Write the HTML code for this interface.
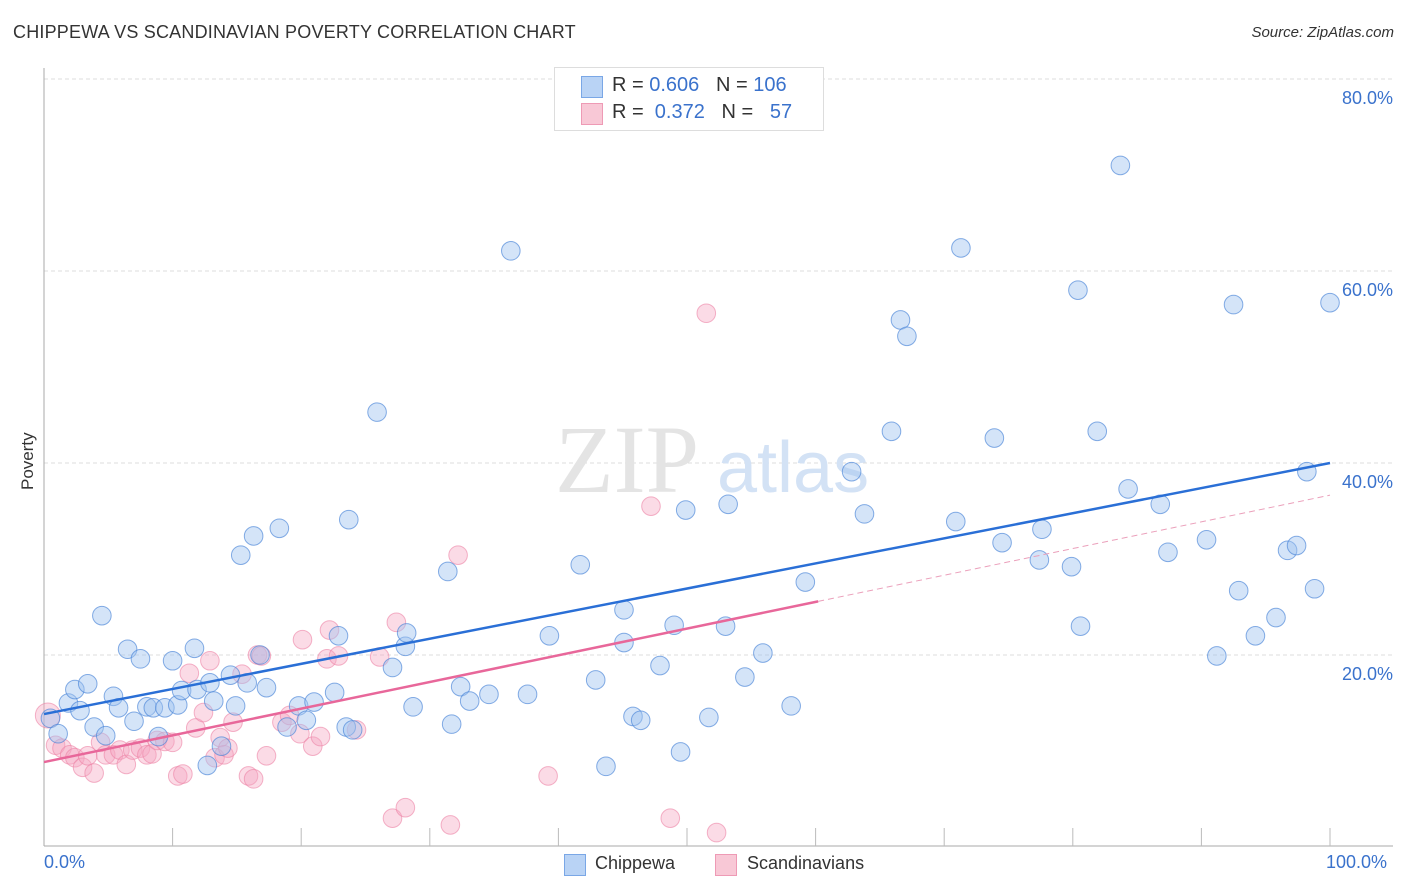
<!DOCTYPE html>
<html><head><meta charset="utf-8"><style>
body{margin:0;background:#fff;font-family:"Liberation Sans",sans-serif;}
#wrap{position:relative;width:1406px;height:892px;overflow:hidden;}
.t{position:absolute;white-space:nowrap;}
</style></head><body>
<div id="wrap">
<div class="t" style="left:13px;top:22px;font-size:18px;color:#333;letter-spacing:0.2px">CHIPPEWA VS SCANDINAVIAN POVERTY CORRELATION CHART</div>
<div class="t" style="right:12px;top:24px;font-size:15px;color:#333;font-style:italic">Source: ZipAtlas.com</div>
<div class="t" style="left:18px;top:490px;font-size:17px;color:#333;transform:rotate(-90deg);transform-origin:left top;">Poverty</div>
<svg id="svg" width="1406" height="892" style="position:absolute;left:0;top:0"></svg>
<div style="position:absolute;left:554px;top:67px;width:268px;height:62px;border:1px solid #ddd;background:#fff;font-size:20px;color:#333">
 <div style="position:absolute;left:26px;top:8px;width:20px;height:20px;background:#b9d3f5;border:1px solid #7aa7e6"></div>
 <div class="t" style="left:57px;top:6px">R = <span style="color:#3a72cc">0.606</span>&nbsp;&nbsp;&nbsp;N = <span style="color:#3a72cc">106</span></div>
 <div style="position:absolute;left:26px;top:35px;width:20px;height:20px;background:#f8c8d6;border:1px solid #ee9ab5"></div>
 <div class="t" style="left:57px;top:33px">R = &nbsp;<span style="color:#3a72cc">0.372</span>&nbsp;&nbsp;&nbsp;N = &nbsp;&nbsp;<span style="color:#3a72cc">57</span></div>
</div>
<div class="t" style="left:44px;top:852px;font-size:18px;color:#3a72cc">0.0%</div>
<div class="t" style="left:1326px;top:852px;font-size:18px;color:#3a72cc">100.0%</div>
<div style="position:absolute;left:564px;top:854px;width:20px;height:20px;background:#b9d3f5;border:1px solid #7aa7e6"></div>
<div class="t" style="left:595px;top:853px;font-size:18px;color:#333">Chippewa</div>
<div style="position:absolute;left:715px;top:854px;width:20px;height:20px;background:#f8c8d6;border:1px solid #ee9ab5"></div>
<div class="t" style="left:747px;top:853px;font-size:18px;color:#333">Scandinavians</div>
</div>
<script>
const yTicks=[20,40,60,80];
const yTickLabels=["20.0%","40.0%","60.0%","80.0%"];
const blueX=[0.5,1.1,1.9,2.4,2.8,3.4,3.9,4.5,4.8,5.4,5.8,6.5,7.0,7.5,8.0,8.5,8.9,9.4,10.0,10.4,10.7,11.7,11.9,12.7,12.9,13.2,13.8,14.5,14.9,15.3,15.8,16.3,16.8,17.3,18.3,18.9,19.8,20.4,21.0,22.6,22.9,23.5,23.7,24.0,25.9,27.1,28.1,28.2,28.7,31.4,31.7,32.4,33.1,34.6,36.3,37.6,39.3,41.7,42.9,43.7,45.1,45.1,45.8,46.4,47.9,49.0,49.5,49.9,51.7,53.0,53.2,54.5,55.9,58.1,59.2,62.8,63.8,65.9,66.6,67.1,70.9,71.3,73.9,74.5,77.4,77.6,79.9,80.4,80.6,81.9,83.7,84.3,86.8,87.4,90.4,91.2,92.5,92.9,94.2,95.8,96.7,97.4,98.2,98.8,100.0];
const blueY=[13.4,11.8,15.0,16.4,14.2,17.0,12.5,24.1,11.6,15.7,14.5,20.6,13.1,19.6,14.6,14.5,11.5,14.5,19.4,14.8,16.3,20.7,16.4,8.5,17.1,15.2,10.5,17.9,14.7,30.4,17.1,32.4,20.0,16.6,33.2,12.5,14.7,13.2,15.1,16.1,22.0,12.5,34.1,12.2,45.3,18.7,20.9,22.3,14.6,28.7,12.8,16.7,15.2,15.9,62.1,15.9,22.0,29.4,17.4,8.4,24.7,21.3,13.6,13.2,18.9,23.1,9.9,35.1,13.5,23.0,35.7,17.7,20.2,14.7,27.6,39.1,34.7,43.3,54.9,53.2,33.9,62.4,42.6,31.7,29.9,33.1,29.2,58.0,23.0,43.3,71.0,37.3,35.7,30.7,32.0,19.9,56.5,26.7,22.0,23.9,30.9,31.4,39.1,26.9,56.7];
const pinkX=[0.3,0.9,1.4,2.0,2.4,3.0,3.4,3.9,4.4,4.8,5.4,5.9,6.4,6.9,7.5,8.0,8.4,8.8,9.4,10.0,10.4,10.8,11.3,11.8,12.4,12.9,13.3,13.7,14.0,14.3,14.7,15.4,15.9,16.3,16.6,16.9,17.3,18.5,19.1,19.9,20.1,20.9,21.5,22.0,22.2,22.9,24.3,26.1,27.4,27.1,28.1,31.6,32.2,39.2,47.2,48.7,51.5,52.3];
const pinkY=[13.7,10.6,10.3,9.6,9.3,8.3,9.5,7.7,10.9,9.6,9.6,10.1,8.6,10.1,10.3,9.6,9.7,11.1,11.0,10.9,7.4,7.6,18.1,12.4,14.0,19.4,9.3,11.4,9.6,10.3,13.0,18.0,7.4,7.1,20.0,19.9,9.5,13.0,13.7,11.8,21.6,10.5,11.5,19.6,22.6,19.9,12.2,19.8,23.4,3.0,4.1,2.3,30.4,7.4,35.5,3.0,55.6,1.5];
const blueTrend=[13.85,0.2615];
const pinkTrend=[8.85,0.278];
const svg=document.getElementById('svg');const NS='http://www.w3.org/2000/svg';
const X=v=>44+v*12.86, Y=v=>847-v*9.6;
function mk(tag,attrs,name){const e=document.createElementNS(NS,tag);for(const k in attrs)e.setAttribute(k,attrs[k]);


svg.appendChild(e);return e;}
yTicks.forEach((v,i)=>{mk('line',{x1:44,x2:1393,y1:Y(v),y2:Y(v),stroke:'#ddd','stroke-dasharray':'4,3'},'gridline');
const t=mk('text',{x:1393,y:Y(v)+25,'text-anchor':'end','font-size':18,fill:'#3a72cc','font-family':'Liberation Sans'},'y-tick-label');t.textContent=yTickLabels[i];});
const w=mk('text',{x:555,y:492,'font-size':96,fill:'#e4e4e4','font-family':'Liberation Serif'},'watermark');w.textContent='ZIP';
const w2=mk('text',{x:717,y:492,'font-size':72,fill:'#d3e2f5','font-family':'Liberation Sans'},'watermark');w2.textContent='atlas';
mk('line',{x1:44,x2:44,y1:68,y2:846,stroke:'#aaa'},'y-axis');
mk('line',{x1:44,x2:1393,y1:846,y2:846,stroke:'#aaa'},'x-axis');
for(let i=1;i<=10;i++)mk('line',{x1:X(i*10),x2:X(i*10),y1:828,y2:846,stroke:'#bbb'},'x-tick');
pinkX.forEach((x,i)=>mk('circle',{cx:X(x),cy:Y(pinkY[i]),r:i==0?12.5:9.3,fill:'rgba(244,165,192,0.4)',stroke:'rgba(236,130,165,0.6)','stroke-width':1},'scandinavians-point'));
blueX.forEach((x,i)=>mk('circle',{cx:X(x),cy:Y(blueY[i]),r:9.3,fill:'rgba(160,195,240,0.45)',stroke:'rgba(70,130,215,0.65)','stroke-width':1},'chippewa-point'));
mk('line',{x1:X(0),y1:Y(blueTrend[0]),x2:X(100),y2:Y(blueTrend[0]+blueTrend[1]*100),stroke:'#2a6fd6','stroke-width':2.5},'chippewa-trend-line');
mk('line',{x1:X(0),y1:Y(pinkTrend[0]),x2:X(60.2),y2:Y(pinkTrend[0]+pinkTrend[1]*60.2),stroke:'#e8679a','stroke-width':2.5},'scandinavians-trend-line');
mk('line',{x1:X(60.2),y1:Y(pinkTrend[0]+pinkTrend[1]*60.2),x2:X(100),y2:Y(pinkTrend[0]+pinkTrend[1]*100),stroke:'#eba0bb','stroke-width':1,'stroke-dasharray':'6,4'},'scandinavians-trend-extension');
</script>
</body></html>
